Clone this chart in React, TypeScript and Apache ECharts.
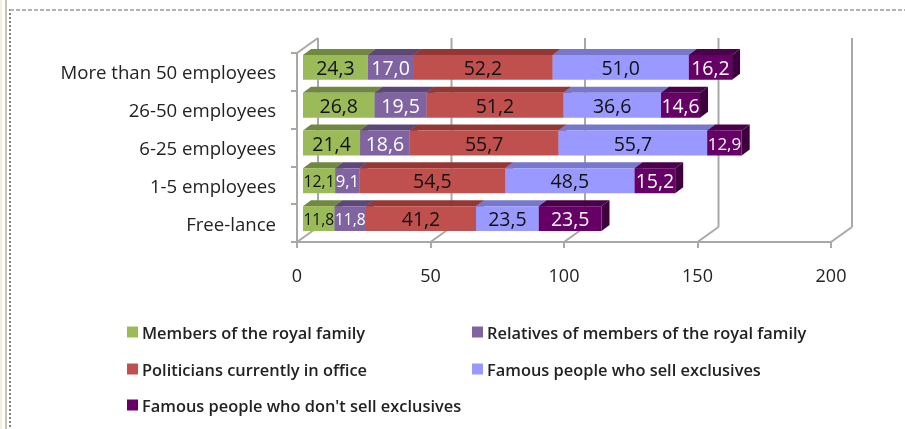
import React, { useEffect, useRef } from "react";
import * as echarts from "echarts";

const categories = ["More than 50 employees", "26-50 employees", "6-25 employees", "1-5 employees", "Free-lance"];
const royalMembers = [24.3, 26.8, 21.4, 12.1, 11.8];
const royalRelatives = [17.0, 19.5, 18.6, 9.1, 11.8];
const politicians = [52.2, 51.2, 55.7, 54.5, 41.2];
const sellExclusives = [51.0, 36.6, 55.7, 48.5, 23.5];
const noSellExclusives = [16.2, 14.6, 12.9, 15.2, 23.5];
const xTicks = [0, 50, 100, 150, 200];

const seriesDefs = [
  { name: "Members of the royal family", values: royalMembers, front: "#9BBB59", top: "#71893F", side: "#71893F", text: "#111111" },
  { name: "Relatives of members of the royal family", values: royalRelatives, front: "#8064A2", top: "#5C4776", side: "#5C4776", text: "#FFFFFF" },
  { name: "Politicians currently in office", values: politicians, front: "#C0504D", top: "#953735", side: "#953735", text: "#111111" },
  { name: "Famous people who sell exclusives", values: sellExclusives, front: "#9999FF", top: "#7777CC", side: "#7777CC", text: "#111111" },
  { name: "Famous people who don't sell exclusives", values: noSellExclusives, front: "#660066", top: "#4A004A", side: "#3D003D", text: "#FFFFFF" },
];

const FONT = "'Open Sans', 'Noto Sans', sans-serif";
const WALL_DX = 21;
const WALL_DY = -15;
const BAR_DX = 8;
const BAR_DY = -6;
const BAR_INSET = 6;
const GRID = "#A8A8A8";
const LABEL_SIZE = 19.5;

function wallRender(params: any, api: any) {
  const cs = params.coordSys;
  const x = api.coord([api.value(0), 0])[0];
  const bottom = cs.y + cs.height;
  const top = cs.y;
  const line = (x1: number, y1: number, x2: number, y2: number) => ({
    type: "line",
    shape: { x1, y1, x2, y2 },
    style: { stroke: GRID, lineWidth: 2 },
  });
  const children: any[] = [
    line(x + WALL_DX, top + WALL_DY, x + WALL_DX, bottom + WALL_DY),
    line(x, bottom, x + WALL_DX, bottom + WALL_DY),
  ];
  if (api.value(0) === 0) children.push(line(x, top, x + WALL_DX, top + WALL_DY));
  return { type: "group", children };
}

// Narrow segments get a smaller label so that neighbouring labels stay apart.
function labelSize(text: string, width: number) {
  const em = (text.length - 1) * 0.572 + 0.25;
  return Math.min(LABEL_SIZE, (width - 1) / em);
}

function makeBarRender(def: (typeof seriesDefs)[number]) {
  return (_params: any, api: any) => {
    const start = api.value(0);
    const end = api.value(1);
    const cat = api.value(2);
    const a = api.coord([start, cat]);
    const b = api.coord([end, cat]);
    const band = api.size([0, 1])[1];
    const h = band * 0.66;
    const x0 = a[0] + BAR_INSET;
    const x1 = b[0] + BAR_INSET;
    const y0 = a[1] - 4.5 - h / 2;
    const y1 = y0 + h;
    const text = api.value(3).toFixed(1).replace(".", ",");
    return {
      type: "group",
      children: [
        {
          type: "polygon",
          shape: { points: [[x0, y0], [x0 + BAR_DX, y0 + BAR_DY], [x1 + BAR_DX, y0 + BAR_DY], [x1, y0]] },
          style: { fill: def.top },
        },
        {
          type: "polygon",
          shape: { points: [[x1, y0], [x1 + BAR_DX, y0 + BAR_DY], [x1 + BAR_DX, y1 + BAR_DY], [x1, y1]] },
          style: { fill: def.side },
        },
        { type: "rect", shape: { x: x0, y: y0, width: x1 - x0, height: h }, style: { fill: def.front } },
        {
          type: "text",
          z2: 10,
          style: {
            x: (x0 + x1) / 2,
            y: (y0 + y1) / 2,
            text,
            fill: def.text,
            font: `${labelSize(text, x1 - x0).toFixed(1)}px ${FONT}`,
            align: "center",
            verticalAlign: "middle",
          },
        },
      ],
    };
  };
}

const legendSpots = [
  { left: 127, top: 324 },
  { left: 472, top: 324 },
  { left: 127, top: 361 },
  { left: 472, top: 361 },
  { left: 127, top: 397 },
];

export default function App() {
  const ref = useRef<HTMLDivElement>(null);
  useEffect(() => {
    document.body.style.margin = "0";
    const chart = echarts.init(ref.current!, undefined, { renderer: "svg" });
    const running = categories.map(() => 0);
    const barSeries = seriesDefs.map((def, si) => {
      const data = def.values.map((v, c) => {
        const row = [running[c], running[c] + v, c, v];
        running[c] += v;
        return row;
      });
      return {
        type: "custom",
        name: def.name,
        coordinateSystem: "cartesian2d",
        renderItem: makeBarRender(def),
        itemStyle: { color: def.front },
        encode: { x: [0, 1], y: 2 },
        z: 3 + si,
        data,
      };
    });
    chart.setOption({
      animation: false,
      backgroundColor: "#FFFFFF",
      grid: { left: 297, right: 74, top: 53, bottom: 187, containLabel: false },
      xAxis: {
        type: "value",
        min: 0,
        max: 200,
        interval: 50,
        axisLine: { show: true, lineStyle: { color: GRID, width: 2 } },
        axisTick: { show: true, length: 6, lineStyle: { color: GRID, width: 2 } },
        splitLine: { show: false },
        axisLabel: { color: "#222222", fontFamily: FONT, fontSize: 18, margin: 24, formatter: (v: number) => String(v) },
      },
      yAxis: {
        type: "category",
        inverse: true,
        data: categories,
        axisLine: { show: true, lineStyle: { color: GRID, width: 2 } },
        axisTick: { show: true, length: 6, lineStyle: { color: GRID, width: 2 } },
        axisLabel: { color: "#222222", fontFamily: FONT, fontSize: 18.6, margin: 21 },
      },
      legend: seriesDefs.map((def, i) => ({
        data: [def.name],
        left: legendSpots[i].left,
        top: legendSpots[i].top,
        icon: "rect",
        itemWidth: 11,
        itemHeight: 11,
        itemGap: 0,
        padding: 0,
        selectedMode: false,
        textStyle: { color: "#222222", fontFamily: FONT, fontSize: 16.4, fontWeight: 600, padding: [0, 0, 0, -1] },
      })),
      series: [
        {
          type: "custom",
          name: "walls",
          coordinateSystem: "cartesian2d",
          renderItem: wallRender,
          encode: { x: 0 },
          silent: true,
          z: 1,
          data: xTicks.map((t) => [t, 0]),
        },
        ...barSeries,
      ],
      graphic: [
        { type: "rect", shape: { x: 0, y: 0, width: 2, height: 429 }, style: { fill: "#F2EFE2" } },
        { type: "rect", shape: { x: 5, y: 0, width: 2, height: 429 }, style: { fill: "#C9C4B0" } },
        { type: "line", shape: { x1: 10, y1: 9, x2: 10, y2: 429 }, style: { stroke: "#808080", lineWidth: 2, lineDash: [2, 2] } },
        { type: "line", shape: { x1: 10, y1: 10, x2: 905, y2: 10 }, style: { stroke: "#B4B4B4", lineWidth: 2, lineDash: [4, 2] } },
      ],
    });
    return () => chart.dispose();
  }, []);
  return <div ref={ref} style={{ width: 905, height: 429, filter: "blur(0.4px)" }} />;
}
